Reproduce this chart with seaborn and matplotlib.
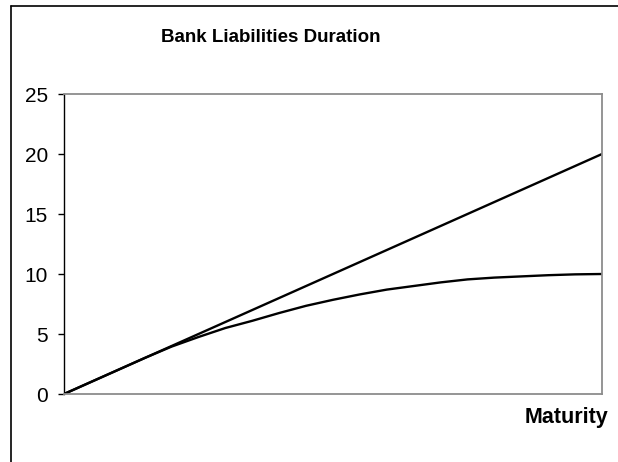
import matplotlib
matplotlib.use("Agg")
import matplotlib.pyplot as plt
import seaborn as sns
import pandas as pd
from matplotlib.lines import Line2D

# --- DATI ---
maturity = [0, 1, 2, 3, 4, 5, 6, 7, 8, 9, 10, 11, 12, 13, 14, 15, 16, 17, 18, 19, 20]
duration_zero = [0, 1, 2, 3, 4, 5, 6, 7, 8, 9, 10, 11, 12, 13, 14, 15, 16, 17, 18, 19, 20]
duration_coupon = [0, 1.0, 2.0, 3.0, 3.95, 4.75, 5.5, 6.1, 6.75, 7.35, 7.85, 8.3, 8.7,
                   9.0, 9.3, 9.55, 9.7, 9.8, 9.9, 9.97, 10.0]
y_ticks = [0, 5, 10, 15, 20, 25]

df = pd.DataFrame({"maturity": maturity, "zero": duration_zero, "coupon": duration_coupon})

sns.set_style("white")
plt.rcParams["font.family"] = ["Liberation Sans", "DejaVu Sans"]
plt.rcParams["text.color"] = "black"
plt.rcParams["ytick.labelcolor"] = "black"

W, H = 618, 462
fig = plt.figure(figsize=(W / 100, H / 100), dpi=100)
ax = fig.add_axes([64 / W, 1 - 394 / H, (602 - 64) / W, (394 - 94) / H])

sns.lineplot(data=df, x="maturity", y="zero", color="black", linewidth=1.7, ax=ax)
sns.lineplot(data=df, x="maturity", y="coupon", color="black", linewidth=1.7, ax=ax)

ax.set_xlim(0, 20)
ax.set_ylim(0, 25)
ax.set_yticks(y_ticks)
ax.set_xticks([])
ax.set_xlabel("")
ax.set_ylabel("")
ax.tick_params(axis="y", direction="out", length=4.5, width=1, color="black",
               pad=7, labelsize=15, labelcolor="black", left=True)

for side in ["top", "right", "bottom"]:
    ax.spines[side].set_color("#8c8c8c")
    ax.spines[side].set_linewidth(1.3)
ax.spines["left"].set_color("black")
ax.spines["left"].set_linewidth(1.0)

fig.text(271 / W, 1 - 37 / H, "Bank Liabilities Duration", ha="center", va="center",
         fontsize=13.5, fontweight="bold", color="black")
fig.text(608 / W, 1 - 418 / H, "Maturity", ha="right", va="center",
         fontsize=15.5, fontweight="bold", color="black")

# bordo del grafico (tagliato a destra e in basso)
fig.add_artist(Line2D([11 / W, 11 / W], [0, 1 - 6 / H], transform=fig.transFigure,
                      color="black", linewidth=1.2))
fig.add_artist(Line2D([11 / W, 1], [1 - 6 / H, 1 - 6 / H], transform=fig.transFigure,
                      color="black", linewidth=1.2))

fig.savefig("out.png", dpi=100)
